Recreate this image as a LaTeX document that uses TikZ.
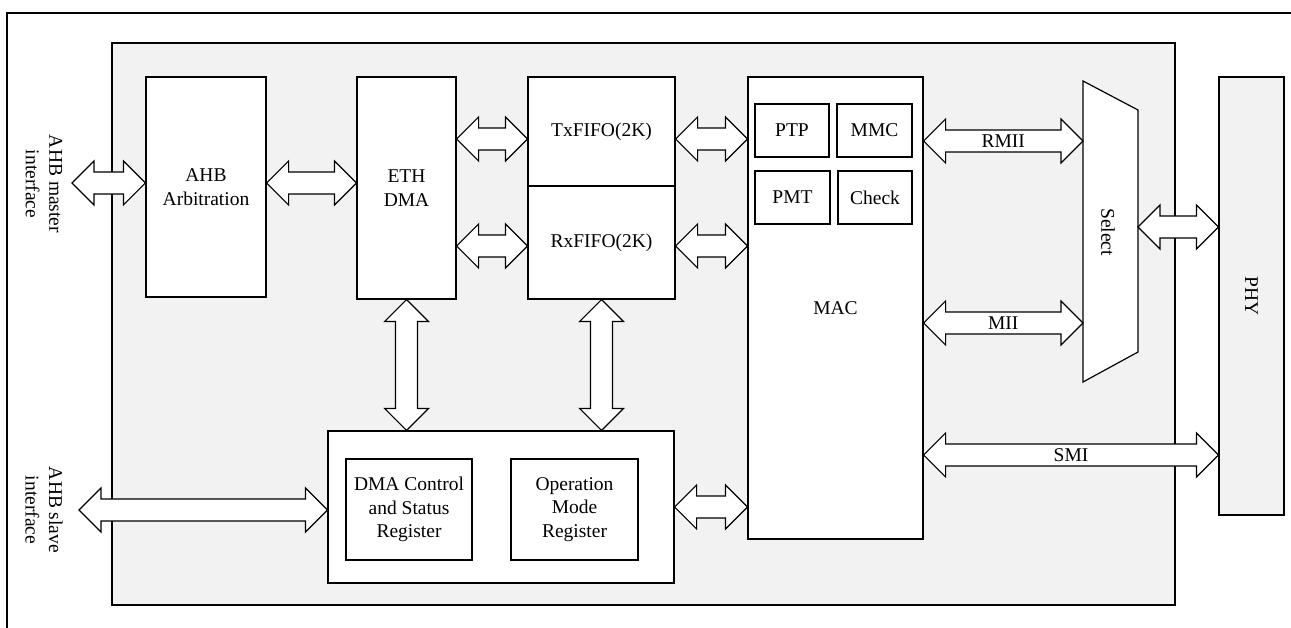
\documentclass[tikz,border=0pt]{standalone}
\usepackage{fontspec}
\setmainfont{Liberation Serif}
\usepackage{xcolor}
\usepackage{tikz}
\usetikzlibrary{calc, positioning}
\definecolor{panelgray}{RGB}{242,242,242}
\tikzstyle{blk}=[rectangle, draw, fill=white, inner sep=0pt, align=center]
\tikzstyle{fatarr}=[draw, fill=white, line join=miter]
\tikzstyle{arrlabel}=[inner sep=1pt]

% fat double arrow between two points, optional label in the middle
\newcommand{\fatarrow}[3][]{%
  \coordinate (fa-a) at (#2);
  \coordinate (fa-b) at (#3);
  \coordinate (fa-s) at ($(fa-a)!22pt!(fa-b)$);
  \coordinate (fa-e) at ($(fa-b)!22pt!(fa-a)$);
  \draw[fatarr] (fa-a) -- ($(fa-s)!22pt!90:(fa-e)$) -- ($(fa-s)!11pt!90:(fa-e)$)
    -- ($(fa-e)!11pt!-90:(fa-s)$) -- ($(fa-e)!22pt!-90:(fa-s)$) -- (fa-b)
    -- ($(fa-e)!22pt!90:(fa-s)$) -- ($(fa-e)!11pt!90:(fa-s)$)
    -- ($(fa-s)!11pt!-90:(fa-e)$) -- ($(fa-s)!22pt!-90:(fa-e)$) -- cycle;
  \if\relax\detokenize{#1}\relax\else
    \path (fa-a) -- node[arrlabel] {#1} (fa-b);
  \fi
}

\begin{document}
\begin{tikzpicture}[x=1pt, y=-1pt]

\tikzset{every node/.style={font=\fontsize{19.5pt}{23.5pt}\selectfont}}
\tikzset{every path/.style={line width=1.2pt}}

\useasboundingbox (0,0) rectangle (1291,628);

% outer frame (top and left edge only)
\draw (7,628) |- (1291,13);

% grey panel
\draw[fill=panelgray] (112,43) rectangle (1175,605);

% blocks
\node[blk, minimum width=120pt, minimum height=220pt] (ahbarb) at (206,187) {AHB\\Arbitration};
\node[blk, minimum width=99pt, minimum height=222pt] (ethdma) at (406.5,188) {ETH\\DMA};
\node[blk, minimum width=147pt, minimum height=109pt] (txfifo) at (601.5,131.5) {TxFIFO(2K)};
\node[blk, minimum width=147pt, minimum height=113pt] (rxfifo) at (601.5,242.5) {RxFIFO(2K)};
\node[blk, minimum width=175pt, minimum height=462pt] (mac) at (835.5,308) {MAC};
\node[blk, minimum width=74pt, minimum height=53pt] (ptp) at (792,130.5) {PTP};
\node[blk, minimum width=75pt, minimum height=53pt] (mmc) at (874.5,130.5) {MMC};
\node[blk, minimum width=75pt, minimum height=53pt] (pmt) at (792.5,197.5) {PMT};
\node[blk, minimum width=74pt, minimum height=53pt] (chk) at (875,197.5) {Check};
\node[blk, minimum width=346pt, minimum height=152pt] (regs) at (501,507) {};
\node[blk, minimum width=126pt, minimum height=101pt] (dmareg) at (409,509.5) {DMA Control\\and Status\\Register};
\node[blk, minimum width=127pt, minimum height=101pt] (opreg) at (574.5,509.5) {Operation\\Mode\\Register};
\node[blk, fill=panelgray, minimum width=65pt, minimum height=438pt] (phy) at (1251.5,296) {};
\node[rotate=-90] (phytext) at (phy.center) {PHY};

% select mux
\coordinate (sel-a) at (1083,81);
\coordinate (sel-b) at (1138,110);
\coordinate (sel-c) at (1138,352);
\coordinate (sel-d) at (1083,382);
\draw[fill=white] (sel-a) -- (sel-b) -- (sel-c) -- (sel-d) -- cycle;
\node[rotate=-90] (seltext) at (1108,232) {Select};

% interface labels
\node[rotate=-90, align=center] (mlabel) at (44,184) {AHB master\\interface};
\node[rotate=-90, align=center] (slabel) at (44,510) {AHB slave\\interface};

% arrow rows
\coordinate (mport) at (72,183);
\coordinate (sport) at (79,510);
\coordinate (txrow) at (0,139);
\coordinate (rxrow) at (0,246);
\coordinate (rmiirow) at (0,141);
\coordinate (miirow) at (0,323);
\coordinate (phyrow) at (0,227);
\coordinate (smirow) at (0,455);

\fatarrow{mport}{mport -| ahbarb.west} % master port
\fatarrow{ahbarb.east |- mport}{ethdma.west |- mport} % arbitration -> dma
\fatarrow{ethdma.east |- txrow}{txfifo.west |- txrow} % dma -> tx
\fatarrow{ethdma.east |- rxrow}{rxfifo.west |- rxrow} % dma -> rx
\fatarrow{txfifo.east |- txrow}{mac.west |- txrow} % tx -> mac
\fatarrow{rxfifo.east |- rxrow}{mac.west |- rxrow} % rx -> mac
\fatarrow{ethdma.south}{ethdma.south |- regs.north} % dma -> regs
\fatarrow{rxfifo.south}{rxfifo.south |- regs.north} % rx -> regs
\fatarrow{sport}{sport -| regs.west} % slave port
\fatarrow{regs.east}{regs.east -| mac.west} % regs -> mac
\fatarrow[RMII]{mac.east |- rmiirow}{sel-a |- rmiirow} % rmii
\fatarrow[MII]{mac.east |- miirow}{sel-a |- miirow} % mii
\fatarrow{sel-b |- phyrow}{phyrow -| phy.west} % select -> phy
\fatarrow[SMI]{mac.east |- smirow}{smirow -| phy.west} % smi

\end{tikzpicture}
\end{document}
